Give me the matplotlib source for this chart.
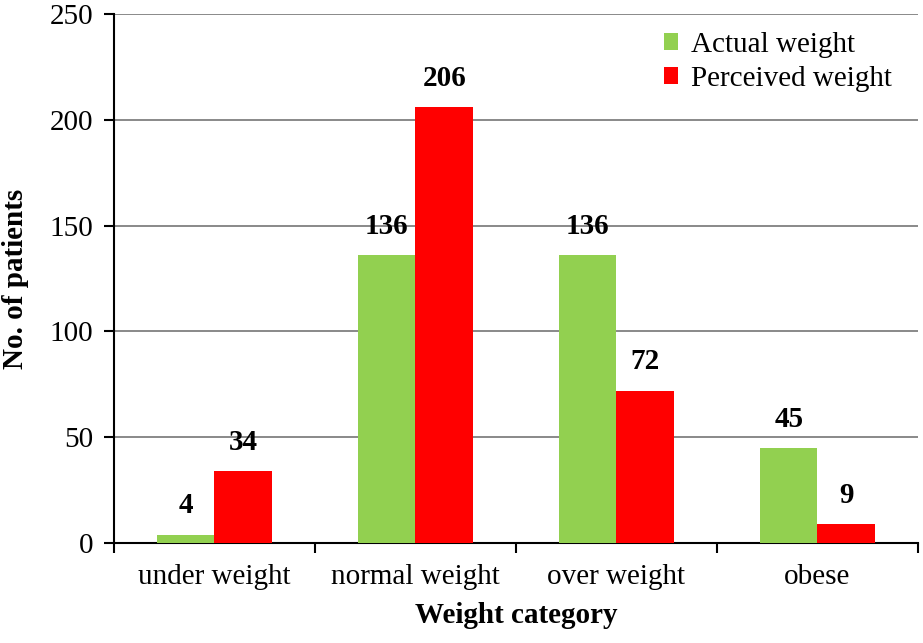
import numpy as np
import matplotlib
matplotlib.use("Agg")
from matplotlib import pyplot as plt

# Dados
categorias = ["under weight", "normal weight", "over weight", "obese"]
peso_real = [4, 136, 136, 45]
peso_percebido = [34, 206, 72, 9]
series = ["Actual weight", "Perceived weight"]

plt.rcParams['font.family'] = ['Liberation Serif', 'DejaVu Serif']
fs = 21

fig = plt.figure(figsize=(9.23, 6.43), dpi=100)
ax = fig.add_axes([0.1235, 0.1555, 0.8710, 0.8225])

x = np.arange(len(categorias))
w = 0.286
b1 = ax.bar(x - w / 2, peso_real, w, color="#92D050", label=series[0], zorder=3)
b2 = ax.bar(x + w / 2, peso_percebido, w, color="#FF0000", label=series[1], zorder=3)

for barras in (b1, b2):
    for r in barras:
        ax.annotate(str(int(r.get_height())), (r.get_x() + r.get_width() / 2, r.get_height()),
                    xytext=(0, 11), textcoords="offset points", ha="center", va="bottom",
                    fontsize=fs, fontweight="bold")

ax.set_ylim(0, 250)
ax.set_xlim(-0.5, 3.5)
ax.set_yticks(range(0, 251, 50))
ax.yaxis.grid(True, color="#808080", linewidth=1.3, zorder=0)
ax.set_axisbelow(True)

ax.set_xticks(x)
ax.set_xticklabels(categorias, fontsize=fs)
ax.tick_params(axis="x", which="major", length=0, pad=15)
ax.set_xticks(np.arange(-0.5, 4, 1), minor=True)
ax.tick_params(axis="x", which="minor", length=7, width=1.5, direction="out")
ax.tick_params(axis="y", length=7, width=1.5, labelsize=fs, pad=8)

for s in ("top", "right"):
    ax.spines[s].set_visible(False)
ax.spines["left"].set_linewidth(1.5)
ax.spines["bottom"].set_linewidth(1.5)

ax.set_xlabel("Weight category", fontsize=fs, fontweight="bold", labelpad=9)
ax.set_ylabel("No. of patients", fontsize=fs, fontweight="bold", labelpad=15)

ax.legend(loc="upper right", bbox_to_anchor=(0.989, 1.0), frameon=False, fontsize=fs,
          handlelength=0.5, handleheight=0.5, handletextpad=0.42, labelspacing=0.29,
          borderaxespad=0.2)

fig.savefig("out.png", dpi=100)
